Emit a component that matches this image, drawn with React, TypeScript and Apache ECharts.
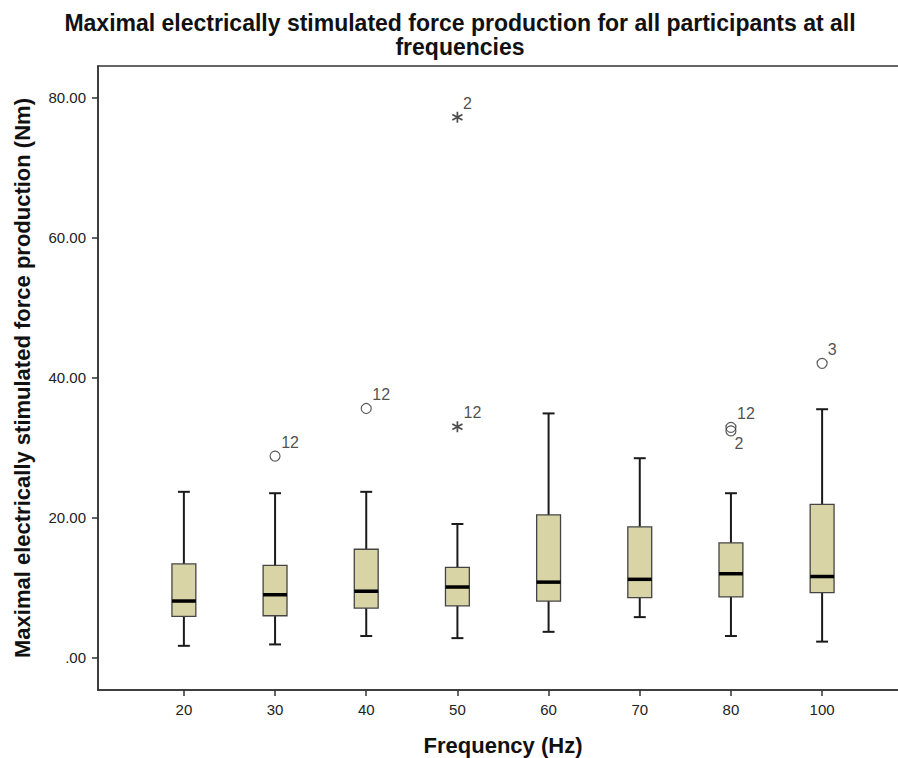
import React, { useEffect, useRef } from "react";
import * as echarts from "echarts";

// Categories (frequency, Hz)
const categories = ["20", "30", "40", "50", "60", "70", "80", "100"];
// Box statistics per category
const whiskerLow = [1.7, 1.9, 3.1, 2.8, 3.7, 5.8, 3.1, 2.3];
const quartile1 = [5.9, 6.0, 7.1, 7.4, 8.1, 8.6, 8.7, 9.3];
const medians = [8.1, 9.0, 9.5, 10.1, 10.8, 11.2, 12.0, 11.6];
const quartile3 = [13.4, 13.2, 15.5, 12.9, 20.4, 18.7, 16.4, 21.9];
const whiskerHigh = [23.7, 23.5, 23.7, 19.1, 34.9, 28.5, 23.5, 35.5];
// Outliers
const outlierCategory = [1, 2, 3, 3, 6, 6, 7];
const outlierValue = [28.8, 35.6, 77.2, 33.0, 32.9, 32.4, 42.05];
const outlierCase = ["12", "12", "2", "12", "12", "2", "3"];
const outlierExtreme = [false, false, true, true, false, false, false];
// Y tick values
const yTicks = [0, 20, 40, 60, 80];

function asteriskPath(): string {
  const c = 10, L = 9, w = 1.3;
  let d = "";
  [0, 60, 120].forEach((deg) => {
    const a = (deg * Math.PI) / 180;
    const dx = Math.sin(a), dy = Math.cos(a);
    const nx = -dy, ny = dx;
    const pts = [
      [c + L * dx + w * nx, c + L * dy + w * ny],
      [c + L * dx - w * nx, c + L * dy - w * ny],
      [c - L * dx - w * nx, c - L * dy - w * ny],
      [c - L * dx + w * nx, c - L * dy + w * ny],
    ];
    d += "M" + pts.map((p) => p[0].toFixed(3) + " " + p[1].toFixed(3)).join("L") + "Z";
  });
  return "path://" + d;
}

export default function App() {
  const ref = useRef<HTMLDivElement>(null);
  useEffect(() => {
    if (!ref.current) return;
    const chart = echarts.init(ref.current, undefined, { renderer: "svg" });

    const boxData = categories.map((_, i) => [
      i,
      whiskerLow[i],
      quartile1[i],
      medians[i],
      quartile3[i],
      whiskerHigh[i],
    ]);

    const star = asteriskPath();
    const outlierData = outlierValue.map((v, i) => {
      const x = outlierCategory[i];
      const below = outlierValue.some(
        (o, j) => j !== i && outlierCategory[j] === x && Math.abs(o - v) < 2 && o > v
      );
      const len = outlierCase[i].length;
      return {
        value: [x, v],
        name: outlierCase[i],
        symbol: outlierExtreme[i] ? star : "circle",
        symbolSize: outlierExtreme[i] ? 11 : 10,
        itemStyle: outlierExtreme[i]
          ? { color: "#222", borderWidth: 0 }
          : { color: "rgba(0,0,0,0)", borderColor: "#333", borderWidth: 1.2 },
        label: { offset: below ? [8, 13] : [len > 1 ? 15 : 10, -14] },
      };
    });

    const labelFont = "'Liberation Sans', Arial, sans-serif";

    chart.setOption({
      animation: false,
      backgroundColor: "#fff",
      title: {
        text:
          "Maximal electrically stimulated force production for all participants at all\nfrequencies",
        left: 455,
        top: 6,
        textAlign: "center",
        textStyle: {
          fontFamily: labelFont,
          fontWeight: "bold",
          fontSize: 23,
          lineHeight: 24,
          color: "#111",
        },
      },
      grid: {
        left: 98,
        top: 66,
        width: 810,
        height: 624,
        show: true,
        borderColor: "#333",
        borderWidth: 1.5,
        backgroundColor: "transparent",
        outerBoundsMode: "none",
      },
      xAxis: {
        type: "value",
        min: -0.942,
        max: 7.942,
        name: "Frequency (Hz)",
        nameLocation: "middle",
        nameGap: 44,
        nameTextStyle: {
          fontFamily: labelFont,
          fontWeight: "bold",
          fontSize: 22,
          color: "#111",
        },
        axisLine: { show: true, onZero: false, lineStyle: { color: "#333", width: 1.5 } },
        axisTick: {
          show: true,
          customValues: categories.map((_, i) => i),
          length: 6,
          lineStyle: { color: "#333", width: 1.5 },
        },
        axisLabel: {
          customValues: categories.map((_, i) => i),
          formatter: (v: number) => categories[Math.round(v)] ?? "",
          fontFamily: labelFont,
          fontSize: 15,
          color: "#222",
          margin: 12,
        },
        splitLine: { show: false },
      },
      yAxis: {
        type: "value",
        min: -4.61,
        max: 84.53,
        name: "Maximal electrically stimulated force production (Nm)",
        nameLocation: "middle",
        nameRotate: 90,
        nameGap: 65,
        nameTextStyle: {
          fontFamily: labelFont,
          fontWeight: "bold",
          fontSize: 22,
          color: "#111",
        },
        axisLine: { show: true, onZero: false, lineStyle: { color: "#333", width: 1.5 } },
        axisTick: {
          show: true,
          customValues: yTicks,
          length: 6,
          lineStyle: { color: "#333", width: 1.5 },
        },
        axisLabel: {
          customValues: yTicks,
          formatter: (v: number) => (v === 0 ? ".00" : v.toFixed(2)),
          fontFamily: labelFont,
          fontSize: 15,
          color: "#222",
          margin: 12,
        },
        splitLine: { show: false },
      },
      series: [
        {
          type: "custom",
          data: boxData,
          encode: { x: 0, y: [1, 2, 3, 4, 5] },
          renderItem: (params: any, api: any) => {
            const x = api.value(0);
            const cx = api.coord([x, 0])[0];
            const yLow = api.coord([x, api.value(1)])[1];
            const yQ1 = api.coord([x, api.value(2)])[1];
            const yMed = api.coord([x, api.value(3)])[1];
            const yQ3 = api.coord([x, api.value(4)])[1];
            const yHigh = api.coord([x, api.value(5)])[1];
            const unit = api.size([1, 0])[0];
            const bw = unit * 0.262;
            const cw = bw * 0.5;
            const wStyle = { stroke: "#1a1a1a", lineWidth: 2 };
            return {
              type: "group",
              children: [
                { type: "line", shape: { x1: cx, y1: yHigh, x2: cx, y2: yQ3 }, style: wStyle },
                { type: "line", shape: { x1: cx, y1: yQ1, x2: cx, y2: yLow }, style: wStyle },
                { type: "line", shape: { x1: cx - cw / 2, y1: yHigh, x2: cx + cw / 2, y2: yHigh }, style: wStyle },
                { type: "line", shape: { x1: cx - cw / 2, y1: yLow, x2: cx + cw / 2, y2: yLow }, style: wStyle },
                {
                  type: "rect",
                  shape: { x: cx - bw / 2, y: yQ3, width: bw, height: yQ1 - yQ3 },
                  style: { fill: "#d9d4a6", stroke: "#444", lineWidth: 1.3 },
                },
                {
                  type: "line",
                  shape: { x1: cx - bw / 2, y1: yMed, x2: cx + bw / 2, y2: yMed },
                  style: { stroke: "#000", lineWidth: 3.5 },
                },
              ],
            };
          },
          z: 2,
        },
        {
          type: "scatter",
          data: outlierData,
          z: 3,
          label: {
            show: true,
            position: "inside",
            formatter: (p: any) => p.name,
            fontFamily: labelFont,
            fontSize: 16,
            color: "#222",
          },
        },
      ],
    });
    return () => chart.dispose();
  }, []);

  return (
    <div
      ref={ref}
      style={{ position: "fixed", left: 0, top: 0, width: 898, height: 758, background: "#fff" }}
    />
  );
}
